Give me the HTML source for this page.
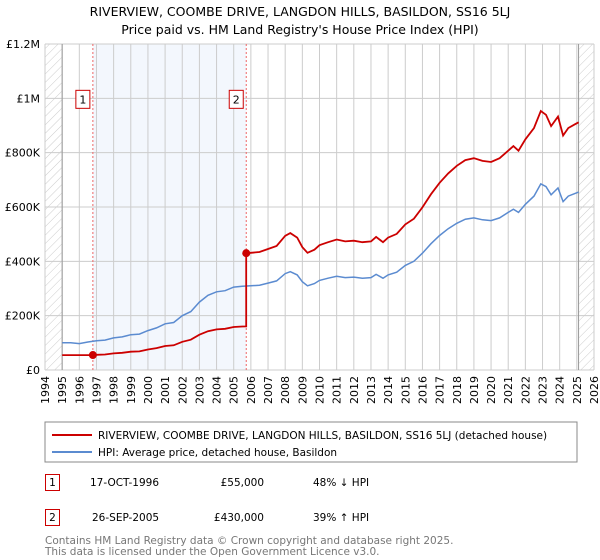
<!DOCTYPE html>
<html><head><meta charset="utf-8"><style>
body{margin:0;background:#fff;font-family:"Liberation Sans","DejaVu Sans",sans-serif;}
#wrap{position:relative;width:600px;height:560px;overflow:hidden}
svg text{font-family:"DejaVu Sans","Liberation Sans",sans-serif}
</style></head><body>
<div id="wrap">
<svg id="chart" width="600" height="560">
<defs><pattern id="hatch" width="6" height="6" patternUnits="userSpaceOnUse" patternTransform="rotate(45)"><line x1="0" y1="0" x2="0" y2="6" stroke="#ccc" stroke-width="1"/></pattern></defs>
<text x="300" y="16" text-anchor="middle" font-size="12.5" fill="#000">RIVERVIEW, COOMBE DRIVE, LANGDON HILLS, BASILDON, SS16 5LJ</text>
<text x="300" y="34" text-anchor="middle" font-size="12.5" fill="#000">Price paid vs. HM Land Registry's House Price Index (HPI)</text>
<g id="grid"></g><g id="marks"></g><g id="axes"></g>
<rect x="45" y="422" width="532" height="40" fill="#fff" stroke="#888"/>
<line x1="52" y1="435" x2="92" y2="435" stroke="#cc0000" stroke-width="2"/>
<text x="98" y="439" font-size="10.5">RIVERVIEW, COOMBE DRIVE, LANGDON HILLS, BASILDON, SS16 5LJ (detached house)</text>
<line x1="52" y1="452" x2="92" y2="452" stroke="#5b8bd0" stroke-width="2"/>
<text x="98" y="456" font-size="10.5">HPI: Average price, detached house, Basildon</text>
<rect x="45.5" y="474.5" width="14" height="16" fill="#fff" stroke="#cc0000"/>
<text x="52.5" y="486" font-size="10.5" text-anchor="middle">1</text>
<text x="90" y="486" font-size="10.5">17-OCT-1996</text>
<text x="264" y="486" font-size="10.5" text-anchor="end">£55,000</text>
<text x="313" y="486" font-size="10.5">48% ↓ HPI</text>
<rect x="45.5" y="509.5" width="14" height="16" fill="#fff" stroke="#cc0000"/>
<text x="52.5" y="521" font-size="10.5" text-anchor="middle">2</text>
<text x="92" y="521" font-size="10.5">26-SEP-2005</text>
<text x="264" y="521" font-size="10.5" text-anchor="end">£430,000</text>
<text x="313" y="521" font-size="10.5">39% ↑ HPI</text>
<text x="45" y="544" font-size="10.5" fill="#777">Contains HM Land Registry data © Crown copyright and database right 2025.</text>
<text x="45" y="555" font-size="10.5" fill="#777">This data is licensed under the Open Government Licence v3.0.</text>
</svg>
</div>
<script>
const hpiYears=[1995,1995.5,1996,1996.5,1997,1997.5,1998,1998.5,1999,1999.5,2000,2000.5,2001,2001.5,2002,2002.5,2003,2003.5,2004,2004.5,2005,2005.5,2006,2006.5,2007,2007.5,2008,2008.3,2008.7,2009,2009.3,2009.7,2010,2010.5,2011,2011.5,2012,2012.5,2013,2013.3,2013.7,2014,2014.5,2015,2015.5,2016,2016.5,2017,2017.5,2018,2018.5,2019,2019.5,2020,2020.5,2021,2021.3,2021.6,2022,2022.5,2022.9,2023.2,2023.5,2023.9,2024.2,2024.5,2024.9,2025.1];
const hpiValues=[100000,100000,97000,103000,108000,110000,118000,122000,130000,132000,145000,155000,170000,175000,200000,215000,250000,275000,288000,292000,305000,308000,310000,312000,320000,328000,355000,362000,350000,325000,310000,318000,330000,338000,345000,340000,342000,338000,340000,352000,338000,350000,360000,385000,400000,430000,465000,495000,520000,540000,555000,560000,553000,550000,560000,580000,592000,580000,610000,640000,685000,675000,645000,670000,620000,640000,650000,655000];
const saleYears=[1996.79,2005.73];
const salePrices=[55000,430000];
const yTicks=[0,200000,400000,600000,800000,1000000,1200000];
const yLabels=["£0","£200K","£400K","£600K","£800K","£1M","£1.2M"];
const xTicks=[1994,1995,1996,1997,1998,1999,2000,2001,2002,2003,2004,2005,2006,2007,2008,2009,2010,2011,2012,2013,2014,2015,2016,2017,2018,2019,2020,2021,2022,2023,2024,2025,2026];

const L=45,R=594,T=44,B=370;
const X=y=>L+(y-1994)*(R-L)/32;
const Y=v=>B-v*(B-T)/1200000;
const NS="http://www.w3.org/2000/svg";
function mk(tag,attrs,parent){const e=document.createElementNS(NS,tag);for(const k in attrs)e.setAttribute(k,attrs[k]);parent.appendChild(e);return e;}
const grid=document.getElementById('grid'),marks=document.getElementById('marks'),axes=document.getElementById('axes');
function hpiAt(t){for(let i=0;i<hpiYears.length-1;i++){if(t>=hpiYears[i]&&t<=hpiYears[i+1]){const f=(t-hpiYears[i])/(hpiYears[i+1]-hpiYears[i]);return hpiValues[i]+f*(hpiValues[i+1]-hpiValues[i]);}}return hpiValues[hpiValues.length-1];}

// shading
let r=mk('rect',{x:X(saleYears[0]),y:T,width:X(saleYears[1])-X(saleYears[0]),height:B-T,fill:'#eef3fc',opacity:0.7},grid);


r=mk('rect',{x:L,y:T,width:X(1995)-L,height:B-T,fill:'url(#hatch)'},grid);


r=mk('rect',{x:X(2025.1),y:T,width:R-X(2025.1),height:B-T,fill:'url(#hatch)'},grid);


xTicks.forEach((t,i)=>{
  const l=mk('line',{x1:X(t),x2:X(t),y1:T,y2:B,stroke:'#ccc'},grid);
  
  
  const tx=mk('text',{x:0,y:0,'font-size':11,'text-anchor':'end',transform:`translate(${X(t)+4},${B+6}) rotate(-90)`},axes);
  tx.textContent=t;
  
  
});
yTicks.forEach((v,i)=>{
  const l=mk('line',{x1:L,x2:R,y1:Y(v),y2:Y(v),stroke:'#ccc'},grid);
  
  
  const tx=mk('text',{x:L-5,y:Y(v)+4,'font-size':11,'text-anchor':'end'},axes);
  tx.textContent=yLabels[i];
  
  
});
let l=mk('line',{x1:X(1995),x2:X(1995),y1:T,y2:B,stroke:'#999'},grid);


l=mk('line',{x1:X(2025.1),x2:X(2025.1),y1:T,y2:B,stroke:'#999'},grid);



// sale vlines & labels
saleYears.forEach((s,i)=>{
  const v=mk('line',{x1:X(s),x2:X(s),y1:T,y2:B,stroke:'#ee6666','stroke-dasharray':'2,2'},marks);
  
  
  const bx=mk('rect',{x:X(s)-17,y:Y(1000000)-8,width:14,height:18,fill:'#fff',stroke:'#cc0000'},marks);
  
  
  const tx=mk('text',{x:X(s)-10,y:Y(1000000)+5,'font-size':11,'text-anchor':'middle'},marks);
  tx.textContent=String(i+1);
  
  
});

// HPI line
let d=hpiYears.map((t,i)=>(i?'L':'M')+X(t).toFixed(1)+','+Y(hpiValues[i]).toFixed(1)).join(' ');
let p=mk('path',{d:d,fill:'none',stroke:'#5b8bd0','stroke-width':1.5},marks);



// property line: indexed from sales
let pts=[];
pts.push([1995,salePrices[0]]);
pts.push([saleYears[0],salePrices[0]]);
const r1=salePrices[0]/hpiAt(saleYears[0]);
hpiYears.forEach((t,i)=>{if(t>saleYears[0]&&t<saleYears[1])pts.push([t,hpiValues[i]*r1]);});
pts.push([saleYears[1],hpiAt(saleYears[1])*r1]);
pts.push([saleYears[1],salePrices[1]]);
const r2=salePrices[1]/hpiAt(saleYears[1]);
hpiYears.forEach((t,i)=>{if(t>saleYears[1])pts.push([t,hpiValues[i]*r2]);});
d=pts.map((q,i)=>(i?'L':'M')+X(q[0]).toFixed(1)+','+Y(q[1]).toFixed(1)).join(' ');
p=mk('path',{d:d,fill:'none',stroke:'#cc0000','stroke-width':1.8},marks);


saleYears.forEach((s,i)=>{
  const c=mk('circle',{cx:X(s),cy:Y(salePrices[i]),r:4,fill:'#cc0000'},marks);
  
  
});
</script>
</body></html>
